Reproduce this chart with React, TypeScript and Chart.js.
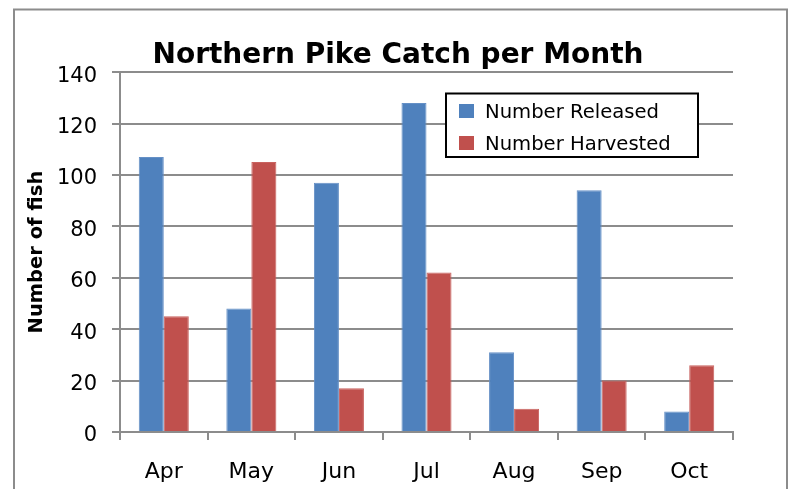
import { useEffect, useRef } from 'react';
import { Chart, registerables } from 'chart.js';

Chart.register(...registerables);

const months = ['Apr', 'May', 'Jun', 'Jul', 'Aug', 'Sep', 'Oct'];
const released = [107, 48, 97, 128, 31, 94, 8];
const harvested = [45, 105, 17, 62, 9, 20, 26];
const seriesLabels = ['Number Released', 'Number Harvested'];
const yTicks = [0, 20, 40, 60, 80, 100, 120, 140];
const chartTitle = 'Northern Pike Catch per Month';
const yAxisTitle = 'Number of fish';

const GRID = '#8c8c8c';
const FONT = '"DejaVu Sans", sans-serif';

const framePlugin = {
  id: 'frame',
  beforeDraw(chart: any) {
    const { ctx, width, height } = chart;
    ctx.save();
    ctx.fillStyle = '#ffffff';
    ctx.fillRect(0, 0, width, height);
    ctx.strokeStyle = '#8c8c8c';
    ctx.lineWidth = 2;
    ctx.strokeRect(14, 9.5, 773, height + 40);
    ctx.restore();
  },
};

const legendPlugin = {
  id: 'boxLegend',
  afterDraw(chart: any) {
    const { ctx } = chart;
    ctx.save();
    const x0 = 446, y0 = 93.5, w = 252, h = 63.5;
    ctx.fillStyle = '#ffffff';
    ctx.fillRect(x0, y0, w, h);
    ctx.strokeStyle = '#000000';
    ctx.lineWidth = 2;
    ctx.strokeRect(x0, y0, w, h);
    ctx.font = '19.6px ' + FONT;
    ctx.textBaseline = 'alphabetic';
    ctx.textAlign = 'left';
    chart.data.datasets.forEach((ds: any, i: number) => {
      const cy = 111 + i * 32;
      ctx.fillStyle = ds.backgroundColor;
      ctx.fillRect(459, cy - 7, 15, 14);
      ctx.fillStyle = '#000000';
      ctx.fillText(ds.label, 485, cy + 7.3);
    });
    ctx.restore();
  },
};

export default function App() {
  const ref = useRef<HTMLCanvasElement | null>(null);

  useEffect(() => {
    if (!ref.current) return;
    const chart = new Chart(ref.current, {
      type: 'bar',
      data: {
        labels: months,
        datasets: [
          {
            label: seriesLabels[0],
            data: released,
            backgroundColor: '#4F81BD',
            borderColor: '#6590c6',
            borderWidth: 1,
            categoryPercentage: 2 / 3.5,
            barPercentage: 1,
          },
          {
            label: seriesLabels[1],
            data: harvested,
            backgroundColor: '#C0504D',
            borderColor: '#c9625f',
            borderWidth: 1,
            categoryPercentage: 2 / 3.5,
            barPercentage: 1,
          },
        ],
      },
      options: {
        animation: false,
        responsive: false,
        maintainAspectRatio: false,
        layout: { padding: 0 },
        plugins: {
          legend: { display: false },
          tooltip: { enabled: false },
          title: {
            display: true,
            text: chartTitle,
            color: '#000000',
            font: { family: FONT, size: 28, weight: 'bold' },
            padding: { top: 38.5, bottom: 0 },
          },
        },
        scales: {
          x: {
            grid: {
              display: true,
              drawOnChartArea: false,
              drawTicks: true,
              tickLength: 8,
              offset: true,
              color: GRID,
              tickColor: GRID,
              lineWidth: 2,
            },
            border: { display: true, color: GRID, width: 2 },
            ticks: {
              color: '#000000',
              font: { family: FONT, size: 22 },
              padding: 19,
              maxRotation: 0,
            },
            afterFit: (scale: any) => {
              scale.height = 57;
            },
          },
          y: {
            min: yTicks[0],
            max: yTicks[yTicks.length - 1],
            grid: {
              color: GRID,
              tickColor: GRID,
              lineWidth: 2,
              drawTicks: true,
              tickLength: 8,
            },
            border: { display: true, color: GRID, width: 2 },
            ticks: {
              stepSize: yTicks[1] - yTicks[0],
              color: '#000000',
              font: { family: FONT, size: 21 },
              padding: 15,
              labelOffset: 4,
            },
            title: {
              display: true,
              text: yAxisTitle,
              color: '#000000',
              font: { family: FONT, size: 19.5, weight: 'bold' },
              padding: { top: 25, bottom: 0 },
            },
            afterFit: (scale: any) => {
              scale.width = 120;
            },
          },
          yRight: {
            position: 'right',
            display: true,
            grid: { display: false, drawTicks: false },
            border: { display: false },
            ticks: { display: false },
            afterFit: (scale: any) => {
              scale.width = 63;
            },
          },
        },
      },
      plugins: [framePlugin, legendPlugin],
    } as any);
    return () => chart.destroy();
  }, []);

  return (
    <div style={{ position: 'fixed', left: 0, top: 0, width: 796, height: 489 }}>
      <canvas ref={ref} width={796} height={489} style={{ width: 796, height: 489, display: 'block' }} />
    </div>
  );
}
